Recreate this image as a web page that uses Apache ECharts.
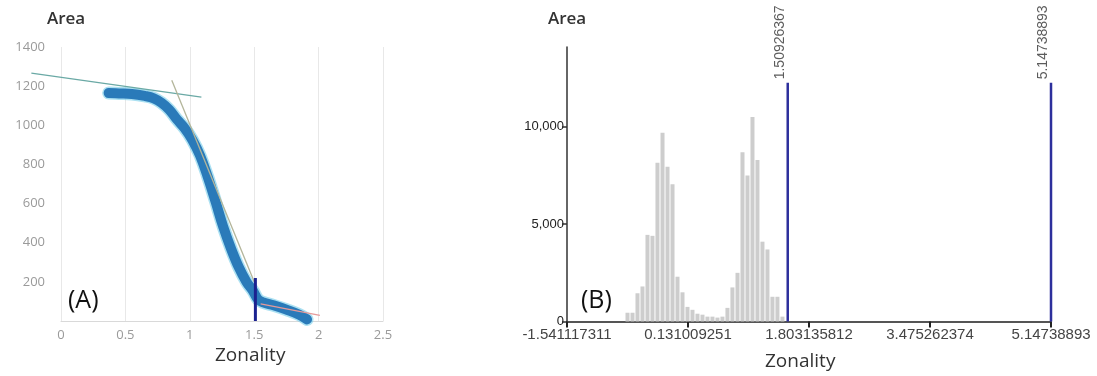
<!DOCTYPE html>
<html><head><meta charset="utf-8">
<script src="https://cdn.jsdelivr.net/npm/echarts@6/dist/echarts.min.js"></script>
<style>html,body{margin:0;padding:0;background:#fff}#c{width:1097px;height:376px}</style>
</head><body><div id="c"></div>
<script>
// ---- Panel A data ----
const curveX = [0.37, 0.45, 0.55, 0.65, 0.72, 0.78, 0.84, 0.90, 0.96, 1.02, 1.08, 1.14, 1.20, 1.26, 1.32, 1.38, 1.44, 1.49, 1.53, 1.57, 1.65, 1.75, 1.85, 1.91];
const curveY = [1165, 1163, 1160, 1150, 1138, 1115, 1080, 1030, 985, 925, 845, 735, 610, 480, 370, 275, 200, 155, 110, 95, 80, 58, 32, 8];
const trend1X = [-0.23, 1.09];
const trend1Y = [1267, 1144];
const trend2X = [0.86, 1.50];
const trend2Y = [1230, 200];
const trend3X = [1.55, 2.01];
const trend3Y = [87, 29];
const markAX = [1.50926367, 1.50926367];
const markAY = [0, 220];
const aXTicks = [0, 0.5, 1, 1.5, 2, 2.5];
const aYTicks = [200, 400, 600, 800, 1000, 1200, 1400];

// ---- Panel B data ----
const histX = [-0.705, -0.636, -0.567, -0.498, -0.429, -0.360, -0.291, -0.221, -0.152, -0.083, -0.014, 0.055, 0.124, 0.193, 0.262, 0.331, 0.400, 0.469, 0.538, 0.607, 0.676, 0.745, 0.815, 0.884, 0.953, 1.022, 1.091, 1.160, 1.229, 1.298, 1.367, 1.436];
const histY = [450, 450, 1450, 1800, 4450, 4400, 8150, 9700, 7950, 7050, 2300, 1500, 750, 600, 400, 350, 250, 250, 200, 250, 700, 1750, 2500, 8700, 7500, 10500, 8300, 4100, 3700, 1270, 1270, 250];
const bXTicks = [-1.541117311, 0.131009251, 1.803135812, 3.475262374, 5.14738893];
const bXTickLabels = ['-1.541117311', '0.131009251', '1.803135812', '3.475262374', '5.14738893'];
const bYTicks = [0, 5000, 10000];
const bYTickLabels = ['0', '5,000', '10,000'];
const breakValues = [1.50926367, 5.14738893];
const breakLabels = ['1.50926367', '5.14738893'];
const breakHeight = 12260;

const zip = (xs, ys) => xs.map((x, i) => [x, ys[i]]);
const FONT = 'Open Sans';
const hiddenAxis = {show: false, axisLine: {show: false}, axisTick: {show: false}, axisLabel: {show: false}, splitLine: {show: false}};

const chart = echarts.init(document.getElementById('c'), null, {renderer: 'canvas'});
const option = {
  animation: false,
  backgroundColor: '#fff',
  title: [
    {text: 'Area', left: 42, top: 6, textStyle: {fontFamily: FONT, fontSize: 17, fontWeight: 600, color: '#333'}},
    {text: 'Zonality', left: 210, top: 341, textStyle: {fontFamily: FONT, fontSize: 19, fontWeight: 500, color: '#333'}},
    {text: '(A)', left: 63, top: 283, textStyle: {fontFamily: FONT, fontSize: 25, fontWeight: 400, color: '#111'}},
    {text: 'Area', left: 543, top: 6, textStyle: {fontFamily: FONT, fontSize: 17, fontWeight: 600, color: '#333'}},
    {text: 'Zonality', left: 760, top: 347, textStyle: {fontFamily: FONT, fontSize: 19, fontWeight: 500, color: '#333'}},
    {text: '(B)', left: 576, top: 283, textStyle: {fontFamily: FONT, fontSize: 25, fontWeight: 400, color: '#111'}}
  ],
  grid: [
    {left: 61, right: 714, top: 47, bottom: 55, containLabel: false},
    {left: 567, right: 46, top: 47, bottom: 54.5, containLabel: false},
    {left: 28.8, right: 714, top: 47, bottom: 55, containLabel: false}
  ],
  xAxis: [
    {
      type: 'value', gridIndex: 0, min: 0, max: 2.5, interval: 0.5,
      axisLine: {show: true, lineStyle: {color: '#d9d9d9', width: 1}},
      axisTick: {show: false},
      splitLine: {show: true, lineStyle: {color: '#e8e8e8', width: 1}},
      axisLabel: {customValues: aXTicks, formatter: v => String(v), color: '#9a9a9a', fontFamily: FONT, fontSize: 13, margin: 8}
    },
    {
      type: 'value', gridIndex: 1, min: bXTicks[0], max: bXTicks[bXTicks.length - 1],
      axisLine: {show: true, onZero: false, lineStyle: {color: '#555', width: 2}},
      axisTick: {show: true, customValues: bXTicks, length: 6, lineStyle: {color: '#222', width: 2}},
      splitLine: {show: false},
      axisLabel: {customValues: bXTicks, formatter: v => bXTickLabels[bXTicks.indexOf(v)] ?? '', color: '#444', fontFamily: 'Liberation Sans', fontSize: 15, margin: 6}
    },
    Object.assign({type: 'value', gridIndex: 2, min: -0.25, max: 2.5}, hiddenAxis)
  ],
  yAxis: [
    {
      type: 'value', gridIndex: 0, min: 0, max: 1400, interval: 200,
      axisLine: {show: false}, axisTick: {show: false}, splitLine: {show: false},
      axisLabel: {customValues: aYTicks, formatter: v => String(v), color: '#9a9a9a', fontFamily: FONT, fontSize: 13, margin: 16}
    },
    {
      type: 'value', gridIndex: 1, min: 0, max: 14100,
      axisLine: {show: true, onZero: false, lineStyle: {color: '#333', width: 1.5}},
      axisTick: {show: true, customValues: bYTicks, length: 5, lineStyle: {color: '#333', width: 1.5}},
      splitLine: {show: false},
      axisLabel: {customValues: bYTicks, formatter: v => bYTickLabels[bYTicks.indexOf(v)] ?? '', color: '#222', fontFamily: 'Liberation Sans', fontSize: 13, margin: 3}
    },
    Object.assign({type: 'value', gridIndex: 2, min: 0, max: 1400}, hiddenAxis)
  ],
  series: [
    {type: 'line', xAxisIndex: 0, yAxisIndex: 0, data: zip(curveX, curveY), smooth: 0.4, showSymbol: false, symbol: 'none',
      lineStyle: {color: '#74cdea', width: 13, cap: 'round', join: 'round', opacity: 0.6}, z: 2},
    {type: 'line', xAxisIndex: 0, yAxisIndex: 0, data: zip(curveX, curveY), smooth: 0.4, showSymbol: false, symbol: 'none',
      lineStyle: {color: '#2a7ab9', width: 10, cap: 'round', join: 'round'}, z: 3},
    {type: 'line', xAxisIndex: 2, yAxisIndex: 2, data: zip(trend1X, trend1Y), showSymbol: false, symbol: 'none',
      lineStyle: {color: '#6aa9a5', width: 1.3}, z: 4},
    {type: 'line', xAxisIndex: 0, yAxisIndex: 0, data: zip(trend2X, trend2Y), showSymbol: false, symbol: 'none',
      lineStyle: {color: '#b3b59a', width: 1.3}, z: 4},
    {type: 'line', xAxisIndex: 0, yAxisIndex: 0, data: zip(trend3X, trend3Y), showSymbol: false, symbol: 'none',
      lineStyle: {color: '#e59a9a', width: 1.3}, z: 4},
    {type: 'line', xAxisIndex: 0, yAxisIndex: 0, data: zip(markAX, markAY), showSymbol: false, symbol: 'none',
      lineStyle: {color: '#1b2290', width: 3}, z: 5},

    {type: 'bar', xAxisIndex: 1, yAxisIndex: 1, data: zip(histX, histY), barWidth: 4,
      itemStyle: {color: '#cdcdcd'}, z: 2},
    ...breakValues.map(v => ({
      type: 'line', xAxisIndex: 1, yAxisIndex: 1, data: [[v, 0], [v, breakHeight]], showSymbol: false, symbol: 'none',
      lineStyle: {color: '#2d2f9c', width: 2.5}, z: 4
    })),
    {type: 'scatter', xAxisIndex: 1, yAxisIndex: 1, data: breakValues.map(v => [v, breakHeight]), symbolSize: 1,
      itemStyle: {color: 'rgba(0,0,0,0)'},
      label: {show: true, formatter: p => breakLabels[p.dataIndex], position: 'top', distance: 3, rotate: 90,
        align: 'left', verticalAlign: 'middle', offset: [0, -8], color: '#333', fontFamily: 'Liberation Sans', fontSize: 14}, z: 5}
  ]
};
chart.setOption(option);
</script></body></html>
